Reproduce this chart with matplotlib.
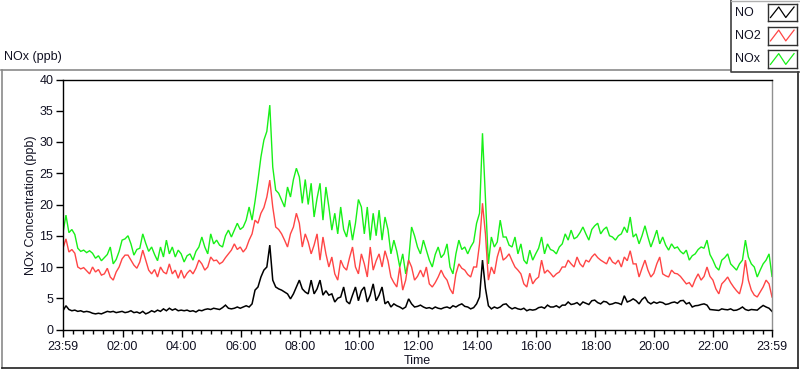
import numpy as np
import matplotlib
matplotlib.use('Agg')
import matplotlib.pyplot as plt
from matplotlib.lines import Line2D

# ---------------- data (6-minute steps from 23:59 to 23:59) ----------------
hours = np.linspace(0, 24, 241)

nox_ppb = [
    15.5, 18.3, 15.5, 16.0, 15.2, 13.0, 12.5, 12.7, 12.3, 12.6,
    12.2, 11.4, 11.8, 11.0, 11.5, 12.0, 13.2, 10.5, 11.2, 12.5,
    14.3, 14.5, 15.0, 13.7, 11.9, 12.8, 13.0, 15.3, 13.8, 12.5,
    13.2, 12.0, 11.0, 13.2, 11.6, 14.3, 12.1, 13.2, 11.6, 12.7,
    12.1, 10.8, 11.8, 12.1, 11.1, 12.5, 13.2, 14.8, 13.2, 12.1,
    15.3, 13.7, 14.3, 13.5, 13.2, 15.0, 15.9, 14.8, 15.9, 17.0,
    16.0, 16.4, 17.5, 19.6, 17.5, 20.5, 23.9, 27.6, 30.3, 31.7,
    35.9, 26.0, 22.3, 21.8, 20.7, 19.6, 22.8, 21.2, 24.0, 25.8,
    24.4, 20.2, 24.0, 20.0, 23.4, 18.0, 21.0, 23.4, 17.5, 22.8,
    19.6, 15.9, 18.6, 15.3, 19.6, 16.0, 14.8, 17.5, 14.3, 17.0,
    20.8, 19.6, 15.3, 19.6, 14.3, 18.6, 15.0, 19.1, 14.3, 18.0,
    16.0, 12.1, 14.3, 12.5, 10.0, 12.1, 8.9, 11.1, 16.4, 15.0,
    13.2, 12.1, 14.3, 12.7, 11.1, 10.0, 12.0, 13.2, 11.5, 12.1,
    13.7, 10.0, 8.9, 12.1, 14.3, 12.8, 13.2, 12.1, 13.2, 14.0,
    17.0, 18.6, 31.4, 20.8, 10.5, 14.8, 13.2, 14.0, 17.5, 14.8,
    14.8, 13.5, 13.2, 14.8, 12.1, 13.7, 11.1, 10.5, 12.7, 11.1,
    12.1, 13.0, 14.8, 12.1, 13.7, 12.8, 12.6, 12.1, 13.2, 13.7,
    15.3, 14.3, 15.9, 14.5, 14.8, 15.5, 16.4, 15.3, 14.3, 16.0,
    16.6, 17.0, 15.3, 16.0, 16.4, 15.0, 14.8, 14.3, 15.0, 15.3,
    16.4, 15.5, 18.0, 14.8, 15.3, 13.7, 15.0, 16.6, 14.8, 13.2,
    14.5, 15.9, 13.7, 14.8, 13.5, 12.7, 13.7, 13.0, 13.2, 12.5,
    12.1, 12.7, 11.1, 11.8, 12.1, 12.8, 13.2, 13.0, 14.3, 12.0,
    11.1, 10.0, 9.5, 11.1, 11.5, 12.1, 10.5, 10.0, 9.5, 10.5,
    11.1, 14.3, 11.6, 10.5, 10.0, 8.4, 9.5, 10.5, 11.1, 12.1,
    8.5,
]

no2_ppb = [
    13.0, 14.5, 12.4, 12.8, 12.2, 10.0, 9.7, 9.9, 9.4, 8.9,
    10.0, 9.2, 9.6, 8.7, 8.9, 9.8, 8.4, 7.9, 9.2, 10.0,
    11.3, 11.9, 11.9, 11.1, 10.3, 9.8, 10.8, 12.7, 11.1, 9.5,
    8.9, 9.6, 8.4, 10.0, 9.2, 8.9, 10.5, 8.9, 9.5, 8.2,
    9.5, 8.2, 9.0, 9.5, 8.9, 9.8, 11.1, 10.5, 9.5, 10.0,
    11.6, 11.0, 11.1, 10.5, 10.8, 11.5, 12.1, 12.7, 13.7, 12.8,
    13.2, 12.4, 13.0, 14.3, 15.3, 17.5, 17.0, 18.6, 19.5, 21.2,
    23.9, 19.6, 16.4, 16.0, 15.3, 14.3, 13.2, 15.3, 16.4, 18.6,
    17.0, 13.2, 15.3, 14.0, 12.1, 13.5, 15.3, 11.1, 14.8, 12.1,
    10.0, 11.6, 8.9, 7.9, 11.1, 10.0, 9.5, 11.5, 13.2, 10.0,
    8.9, 12.1, 10.5, 8.4, 13.2, 9.5, 11.0, 12.1, 10.0, 12.6,
    11.0, 8.4, 7.5, 6.8, 10.0, 6.3, 7.9, 11.1, 10.0, 7.9,
    8.5, 9.5, 8.4, 10.0, 7.3, 6.8, 7.5, 8.4, 9.5, 8.5,
    7.9, 6.5, 5.7, 8.9, 10.5, 9.8, 9.5, 8.8, 8.4, 10.0,
    10.0, 13.7, 20.2, 15.3, 7.9, 10.0, 8.9, 11.6, 13.2, 11.1,
    11.5, 12.1, 11.0, 10.0, 9.5, 8.9, 7.3, 6.8, 9.0, 7.3,
    8.0, 8.4, 11.1, 9.0, 9.5, 9.0, 8.4, 8.9, 9.2, 10.0,
    10.0, 11.1, 10.5, 10.0, 11.6, 10.5, 10.0, 11.1, 10.8, 11.6,
    12.1, 11.5, 11.1, 10.8, 10.5, 11.6, 10.8, 10.5, 11.1, 10.0,
    11.6, 11.0, 12.6, 10.5, 10.5, 8.4, 9.8, 11.1, 9.5, 8.4,
    9.0, 10.5, 11.6, 8.9, 8.6, 8.4, 9.5, 9.0, 8.9, 8.5,
    7.9, 7.3, 7.5, 6.8, 8.0, 8.9, 7.9, 8.5, 10.0, 8.5,
    7.9, 6.5, 5.7, 7.3, 7.8, 8.4, 7.5, 6.8, 6.2, 5.7,
    7.5, 11.1, 7.9, 6.3, 5.5, 5.2, 6.0, 6.8, 7.9, 7.3,
    5.2,
]

no_ppb = [
    3.0, 3.8, 3.2, 3.0, 3.1, 2.9, 3.0, 2.8, 2.9, 2.8,
    2.6, 2.5, 2.6, 2.5, 2.7, 2.9, 2.8, 2.9, 2.7, 2.8,
    2.9, 2.7, 2.8, 3.0, 2.7, 2.8, 2.6, 2.9, 2.5, 2.7,
    3.0, 2.8, 3.1, 2.9, 3.3, 3.0, 3.4, 3.1, 3.3, 3.0,
    3.1, 3.0, 3.1, 2.9, 3.0, 2.8, 3.1, 3.0, 3.2, 3.3,
    3.2, 3.4, 3.3, 3.2, 3.5, 3.9, 3.4, 3.3, 3.4, 3.6,
    3.4, 3.6, 3.8, 3.6, 4.1, 6.3, 6.8, 8.4, 9.5, 10.0,
    13.5, 7.9, 6.8, 6.5, 6.3, 6.0, 5.7, 4.9, 5.7, 6.8,
    7.9, 6.5, 6.0, 5.7, 7.9, 5.7, 6.5, 7.9, 5.5, 6.2,
    5.5, 5.7, 4.4, 5.0, 5.2, 6.8, 4.5, 4.1, 5.5, 6.8,
    4.6, 6.2, 6.8, 4.4, 5.5, 7.3, 4.6, 5.5, 6.8, 4.1,
    4.5, 3.6, 4.1, 3.8, 3.6, 3.3, 3.6, 4.9, 4.1, 3.6,
    3.7, 3.9, 3.6, 3.4, 3.5, 3.3, 3.6, 3.4, 3.3, 3.5,
    3.6, 3.4, 3.8, 3.6, 3.9, 4.1, 3.7, 3.6, 3.3, 3.5,
    4.1, 5.2, 11.1, 6.6, 3.8, 3.3, 3.6, 3.4, 3.6, 4.0,
    4.1, 3.6, 3.3, 3.5, 3.3, 3.2, 3.4, 3.0, 3.2, 3.1,
    3.2, 3.5, 3.6, 3.4, 3.9, 3.6, 3.6, 3.8, 3.5, 3.9,
    3.9, 4.4, 4.0, 4.1, 4.3, 3.9, 4.4, 4.2, 4.0, 4.6,
    4.7, 4.3, 4.1, 4.5, 4.4, 4.0, 4.1, 4.3, 4.2, 4.0,
    5.4, 4.4, 4.6, 4.9, 4.6, 4.1, 4.8, 5.2, 4.4, 4.1,
    4.4, 4.2, 4.4, 4.3, 4.0, 4.1, 4.3, 4.4, 4.2, 4.6,
    4.65, 4.1, 4.3, 3.6, 3.8, 3.85, 4.0, 4.1, 3.9, 3.2,
    3.15, 3.1, 3.05, 3.3, 3.2, 3.15, 3.3, 3.05, 3.1, 3.3,
    3.6, 3.2, 3.05, 3.2, 3.15, 3.1, 3.5, 3.85, 3.6, 3.4,
    2.9,
]

series_names = ['NO', 'NO2', 'NOx']
x_tick_labels = ['23:59', '02:00', '04:00', '06:00', '08:00', '10:00', '12:00',
                 '14:00', '16:00', '18:00', '20:00', '22:00', '23:59']
y_ticks = [0, 5, 10, 15, 20, 25, 30, 35, 40]

# ---------------- styling ----------------
col_no = '#000000'
col_no2 = '#ff4545'
col_nox = '#18f018'
txt_col = '#111122'

plt.rcParams['font.family'] = ['Liberation Sans', 'DejaVu Sans']
W, H = 800, 369
fig = plt.figure(figsize=(W / 100, H / 100), dpi=100)
fig.patch.set_facecolor('white')


def fx(px):
    return px / W


def fy(py):
    return 1 - py / H


ax = fig.add_axes([fx(63), fy(329.5), fx(772) - fx(63), fy(79.5) - fy(329.5)])
ax.plot(hours, nox_ppb, color=col_nox, lw=1.0, solid_joinstyle='miter')
ax.plot(hours, no2_ppb, color=col_no2, lw=1.0, solid_joinstyle='miter')
ax.plot(hours, no_ppb, color=col_no, lw=1.1, solid_joinstyle='miter')

ax.set_xlim(0, 24)
ax.set_ylim(0, 40)
major_x = [0] + [h + 1 / 60 for h in range(2, 23, 2)] + [24]
ax.set_xticks(major_x)
ax.set_xticklabels(x_tick_labels)
minor_x = [m for m in np.arange(1 / 60 + 1 / 3, 24, 1 / 3)
           if min(abs(m - t) for t in major_x) > 0.05]
ax.set_xticks(minor_x, minor=True)
ax.set_yticks(y_ticks)
ax.set_yticklabels([str(v) for v in y_ticks])

ax.tick_params(axis='both', which='major', direction='out', length=5, width=1,
               colors='black', labelsize=9, labelcolor=txt_col, pad=2)
ax.tick_params(axis='x', which='minor', direction='out', length=3, width=1,
               colors='black')
ax.tick_params(axis='x', which='major', pad=3)

for side in ['left', 'top', 'bottom']:
    ax.spines[side].set_color('black')
    ax.spines[side].set_linewidth(1.0)
ax.spines['right'].set_color('#909090')
ax.spines['right'].set_linewidth(1.0)

fig.text(fx(31), fy(205), 'NOx Concentration (ppb)', rotation=90,
         ha='center', va='center', fontsize=9, color=txt_col)
fig.text(fx(417), fy(361), 'Time', ha='center', va='center',
         fontsize=9, color=txt_col)
fig.text(fx(4), fy(57), 'NOx (ppb)', ha='left', va='center',
         fontsize=9, color=txt_col)

# outer frame of the graph
frame_col = '#8a8a8a'
fig.add_artist(Line2D([fx(0.5), fx(730)], [fy(69.5), fy(69.5)],
                      color=frame_col, lw=1.2, transform=fig.transFigure))
fig.add_artist(Line2D([fx(1.5), fx(1.5)], [fy(69.5), fy(367.5)],
                      color=frame_col, lw=1.2, transform=fig.transFigure))
fig.add_artist(Line2D([fx(1.5), fx(797.5)], [fy(367.5), fy(367.5)],
                      color='#202020', lw=1.2, transform=fig.transFigure))
fig.add_artist(Line2D([fx(797.5), fx(797.5)], [fy(71.5), fy(367.5)],
                      color='#202020', lw=1.2, transform=fig.transFigure))

# legend box
fig.add_artist(Line2D([fx(730.5), fx(730.5), fx(799)], [fy(0), fy(71.5), fy(71.5)],
                      color='#404040', lw=1.2, transform=fig.transFigure))
fig.add_artist(Line2D([fx(730.5), fx(799)], [fy(0.5), fy(0.5)],
                      color='#b0b0b0', lw=1.0, transform=fig.transFigure))
entry_cols = [col_no, col_no2, col_nox]
entry_y = [(3.5, 21.0), (26.5, 44.5), (50.0, 68.0)]
for name, c, (y0, y1) in zip(series_names, entry_cols, entry_y):
    fig.text(fx(735), fy((y0 + y1) / 2 + 0.5), name, ha='left', va='center',
             fontsize=9, color=txt_col)
    sw = fig.add_axes([fx(767.5), fy(y1), fx(797) - fx(767.5), fy(y0) - fy(y1)])
    sw.set_xlim(0, 1)
    sw.set_ylim(0, 1)
    sw.set_xticks([])
    sw.set_yticks([])
    sw.plot([0.1, 0.38, 0.62, 0.9], [0.2, 0.8, 0.2, 0.8], color=c, lw=0.9)
    for s in sw.spines.values():
        s.set_color('#303030')
        s.set_linewidth(1.0)

fig.savefig('out.png', dpi=100, facecolor='white')
